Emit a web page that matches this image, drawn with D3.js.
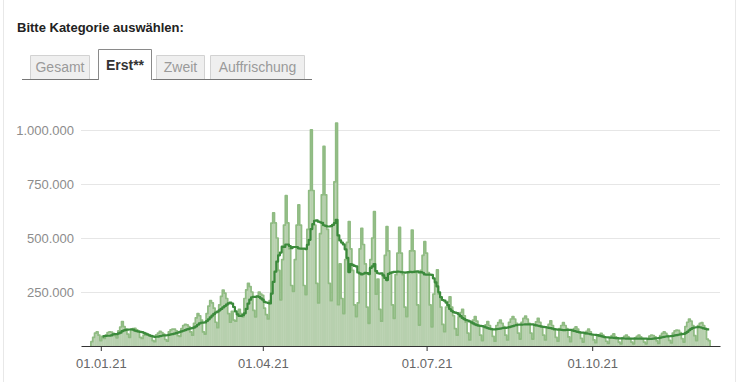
<!DOCTYPE html>
<html>
<head>
<meta charset="utf-8">
<title>Erstimpfungen pro Tag</title>
<script src="https://cdn.jsdelivr.net/npm/d3@7"></script>
<style>
  body { margin: 0; background: #fff; }
  svg text { font-family: Helvetica, Arial, "Liberation Sans", sans-serif; }
</style>
</head>
<body>
<div id="app"></div>
<script>
// erster Tag der Reihe, danach ein Wert pro Tag (in Tausend)
const startDay = "2020-12-27";
const erstTsd = [
  20,
  40, 60, 66, 50, 25, 45, 35,
  50, 62, 66, 64, 58, 48, 38,
  70, 88, 113, 90, 78, 55, 40,
  75, 80, 82, 75, 65, 40, 35,
  50, 52, 55, 50, 45, 25, 20,
  52, 60, 68, 62, 55, 30, 22,
  65, 75, 78, 78, 70, 48, 45,
  80, 95, 100, 98, 90, 65, 50,
  105, 130, 150, 140, 120, 65, 55,
  150, 185, 210, 200, 175, 110, 85,
  190, 230, 259, 245, 220, 150, 110,
  160, 120, 115, 150, 170, 150, 135,
  220, 260, 290, 275, 250, 165, 135,
  230, 250, 240, 235, 175, 145, 125,
  210, 569, 616, 570, 500, 350, 214,
  400, 560, 696, 570, 450, 280, 253,
  400, 560, 653, 560, 450, 280, 238,
  540, 720, 1001, 720, 560, 290, 199,
  520, 700, 924, 700, 540, 290, 210,
  560, 760, 1032, 191, 380, 220, 150,
  400, 480, 576, 450, 350, 190, 136,
  200, 450, 545, 470, 380, 180, 105,
  400, 500, 622, 240, 310, 170, 115,
  330, 420, 553, 440, 340, 190, 128,
  330, 430, 549, 430, 330, 180, 136,
  340, 440, 537, 440, 340, 190, 97,
  350, 420, 483, 430, 340, 190, 89,
  240, 290, 352, 240, 180, 100, 66,
  180, 205, 228, 180, 140, 80, 50,
  135, 155, 170, 140, 110, 60, 28,
  105, 120, 136, 115, 95, 50, 25,
  85, 98, 113, 95, 80, 45, 22,
  95, 108, 120, 105, 90, 50, 28,
  110, 125, 136, 125, 105, 60, 32,
  110, 128, 139, 125, 105, 60, 32,
  95, 112, 128, 110, 90, 50, 28,
  82, 100, 117, 95, 75, 40, 22,
  80, 95, 108, 95, 80, 42, 20,
  68, 80, 89, 78, 65, 35, 18,
  55, 68, 78, 66, 52, 28, 15,
  45, 52, 59, 50, 40, 22, 12,
  38, 48, 56, 42, 34, 18, 10,
  38, 45, 51, 42, 34, 18, 10,
  38, 45, 51, 42, 34, 18, 10,
  30, 46, 51, 48, 42, 24, 12,
  48, 58, 66, 58, 48, 26, 14,
  60, 70, 74, 72, 62, 34, 18,
  90, 110, 124, 115, 95, 48, 25,
  95, 105, 108, 95, 80, 32, 25
];
const tabs = ["Gesamt", "Erst**", "Zweit", "Auffrischung"];
const activeTab = "Erst**";
const yTicks = [250000, 500000, 750000, 1000000];
const xTicks = ["2021-01-01", "2021-04-01", "2021-07-01", "2021-10-01"];
const xDomain = ["2020-12-21", "2021-12-11"];

!function () {
  const W = 740, H = 382;
  const parse = d3.timeParse("%Y-%m-%d");
  const de = d3.formatLocale({decimal: ",", thousands: ".", grouping: [3], currency: ["", " €"]});
  const fmt = de.format(",d");

  const t0 = parse(startDay);
  const days = erstTsd.map((v, i) => ({date: d3.timeDay.offset(t0, i), value: v * 1000}));

  // gleitender 7-Tage-Schnitt (nachlaufend)
  const avg = [];
  for (let i = 6; i < days.length; i++) {
    avg.push({date: days[i].date, value: d3.mean(days.slice(i - 6, i + 1), d => d.value)});
  }

  const svg = d3.select("#app").append("svg").attr("width", W).attr("height", H);

  // Rahmen links/rechts
  svg.append("line").attr("x1", 3.5).attr("x2", 3.5).attr("y1", 0).attr("y2", H)
    .attr("stroke", "#e8e8e8");
  svg.append("line").attr("x1", 735.5).attr("x2", 735.5).attr("y1", 0).attr("y2", H)
    .attr("stroke", "#e8e8e8");

  svg.append("text").attr("x", 17).attr("y", 32)
    .attr("font-size", 13).attr("font-weight", "bold").attr("fill", "#222")
    .text("Bitte Kategorie auswählen:");

  // Reiter
  const tabX = [30, 98, 156, 210], tabW = [60, 54, 49, 95];
  svg.append("path")
    .attr("d", "M22,79.5H98.5M152.5,79.5H312")
    .attr("stroke", "#777").attr("fill", "none");
  const tg = svg.append("g").selectAll("g").data(tabs).enter().append("g");
  tg.append("path")
    .attr("d", (d, i) => {
      const x0 = tabX[i] + 0.5, x1 = tabX[i] + tabW[i] - 0.5;
      if (d === activeTab) return `M${x0},80V49.5H${x1}V80`;
      return `M${x0},79V55.5H${x1}V79`;
    })
    .attr("fill", d => d === activeTab ? "#fff" : "#efefef")
    .attr("stroke", d => d === activeTab ? "#8a8a8a" : "#d2d2d2");
  tg.append("text")
    .attr("x", (d, i) => tabX[i] + tabW[i] / 2)
    .attr("y", d => d === activeTab ? 70 : 72)
    .attr("text-anchor", "middle")
    .attr("font-size", 14)
    .attr("font-weight", d => d === activeTab ? "bold" : "normal")
    .attr("fill", d => d === activeTab ? "#333" : "#9a9a9a")
    .text(d => d);

  // Skalen
  const x = d3.scaleTime().domain(xDomain.map(parse)).range([81, 720]);
  const y = d3.scaleLinear().domain([0, 1000000]).range([346, 130]);
  const half = (x(d3.timeDay.offset(t0, 1)) - x(t0)) / 2;

  // Gitter + y-Beschriftung
  svg.append("g").selectAll("line").data(yTicks).enter().append("line")
    .attr("x1", 81).attr("x2", 720)
    .attr("y1", d => Math.round(y(d)) + 0.5).attr("y2", d => Math.round(y(d)) + 0.5)
    .attr("stroke", "#e6e6e6");
  svg.append("g").selectAll("text").data(yTicks).enter().append("text")
    .attr("x", 74).attr("y", d => y(d) + 4.5)
    .attr("text-anchor", "end").attr("font-size", 13).attr("fill", "#8c8c8c")
    .text(d => fmt(d));

  // Balken
  svg.append("g").selectAll("rect").data(days).enter().append("rect")
    .attr("x", d => x(d.date) - half - 0.2)
    .attr("width", half * 2 + 0.4)
    .attr("y", d => y(d.value))
    .attr("height", d => y(0) - y(d.value))
    .attr("fill", "#b7d0ae");

  // Umriss der Balken als Treppenlinie
  const last = days[days.length - 1];
  const outlinePts = [{px: x(days[0].date) - half, v: 0}]
    .concat(days.map(d => ({px: x(d.date) - half, v: d.value})))
    .concat([{px: x(last.date) + half, v: last.value}, {px: x(last.date) + half, v: 0}]);
  svg.append("path")
    .datum(outlinePts)
    .attr("d", d3.line().x(d => d.px).y(d => y(d.v)).curve(d3.curveStepAfter))
    .attr("fill", "none").attr("stroke", "#8fbb82").attr("stroke-width", 1.7)
    .attr("stroke-linejoin", "round");

  // 7-Tage-Schnitt
  svg.append("path")
    .datum(avg)
    .attr("d", d3.line().x(d => x(d.date)).y(d => y(d.value)).curve(d3.curveStep))
    .attr("fill", "none").attr("stroke", "#3b8a3b").attr("stroke-width", 2.2)
    .attr("stroke-linejoin", "round");

  // x-Achse
  const xAxis = d3.axisBottom(x)
    .tickValues(xTicks.map(parse))
    .tickFormat(d3.timeFormat("%d.%m.%y"))
    .tickSizeInner(5).tickSizeOuter(0).tickPadding(8);
  const ax = svg.append("g").attr("transform", "translate(0,346)").call(xAxis);
  ax.select(".domain").attr("stroke", "#333");
  ax.selectAll(".tick line").attr("stroke", "#333");
  ax.selectAll(".tick text").attr("font-size", 13).attr("fill", "#666")
    .style("font-family", "Helvetica, Arial, 'Liberation Sans', sans-serif");
}();
</script>
</body>
</html>
